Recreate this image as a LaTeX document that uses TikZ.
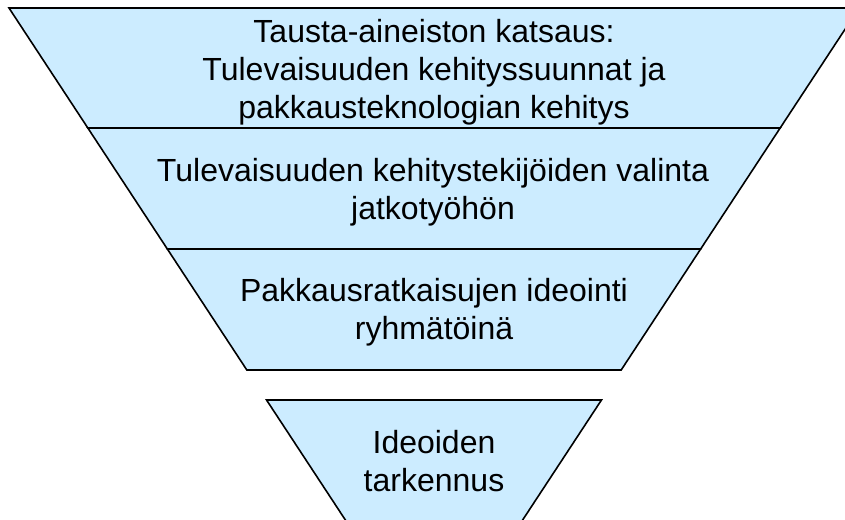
\documentclass[tikz,border=0pt]{standalone}
\usepackage{fontspec}
\setmainfont{Liberation Sans}
\definecolor{funnelfill}{HTML}{CCECFF}
\tikzset{
  band/.style    = {draw=black,line width=1.6pt,fill=funnelfill,line join=miter},
  bandlbl/.style = {align=center,font=\fontsize{32}{38}\selectfont,inner sep=0pt},
}
\begin{document}
\begin{tikzpicture}[x=1pt,y=-1pt]
  \useasboundingbox (0,0) rectangle (845,519);
  \clip (0,0) rectangle (845,519);
  \def\slope{0.657}
  % funnel bands (top / bottom)
  \foreach \ytop/\ybot in {8/128,128/249,249/370,400/560}{
    \filldraw[band] ({9+\slope*(\ytop-8)},\ytop) -- ({859-\slope*(\ytop-8)},\ytop)
      -- ({859-\slope*(\ybot-8)},\ybot) -- ({9+\slope*(\ybot-8)},\ybot) -- cycle;
  }
  % labels
  \node[bandlbl] (review) at (434,72.5)
       {Tausta-aineiston katsaus:\\Tulevaisuuden kehityssuunnat ja\\pakkausteknologian kehitys};
  \node[bandlbl] (select) at (433,192.5)
       {Tulevaisuuden kehitystekijöiden valinta\\jatkotyöhön};
  \node[bandlbl] (ideate) at (434,312.5)
       {Pakkausratkaisujen ideointi\\ryhmätöinä};
  \node[bandlbl] (refine) at (434,461)
       {Ideoiden\\tarkennus};
\end{tikzpicture}
\end{document}
